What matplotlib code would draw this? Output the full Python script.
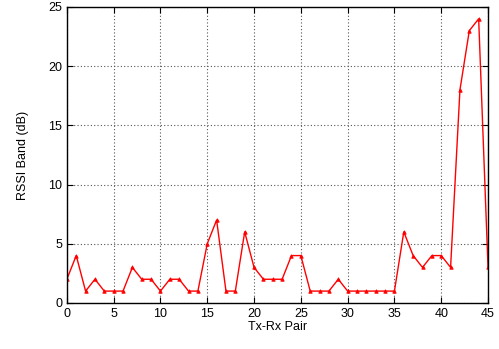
import matplotlib
matplotlib.use("Agg")
import matplotlib.pyplot as plt

# RSSI band per Tx-Rx pair
pairs = list(range(46))
rssi_band = [2, 4, 1, 2, 1, 1, 1, 3, 2, 2,
             1, 2, 2, 1, 1, 5, 7, 1, 1, 6,
             3, 2, 2, 2, 4, 4, 1, 1, 1, 2,
             1, 1, 1, 1, 1, 1, 6, 4, 3, 4,
             4, 3, 18, 23, 24, 3]
x_ticks = [0, 5, 10, 15, 20, 25, 30, 35, 40, 45]
y_ticks = [0, 5, 10, 15, 20, 25]

plt.rcParams["font.family"] = ["Liberation Sans", "DejaVu Sans"]

fig = plt.figure(figsize=(4.99, 3.49), dpi=100)
ax = fig.add_axes([0.134, 0.132, 0.844, 0.848])

ax.plot(pairs, rssi_band, color="red", linewidth=1.0, marker="^",
        markersize=2.5, markeredgewidth=0.6)

ax.set_xlim(0, 45)
ax.set_ylim(0, 25)
ax.set_xticks(x_ticks)
ax.set_yticks(y_ticks)
ax.grid(True, linestyle=(0, (1, 2)), color="#555555", linewidth=0.8)
ax.tick_params(direction="in", top=True, right=True, labelsize=9,
               length=4, width=0.8)
for s in ax.spines.values():
    s.set_linewidth(1.0)

ax.set_xlabel("Tx-Rx Pair", fontsize=9, labelpad=1)
ax.set_ylabel("RSSI Band (dB)", fontsize=9, labelpad=14)

fig.savefig("out.png", dpi=100)
